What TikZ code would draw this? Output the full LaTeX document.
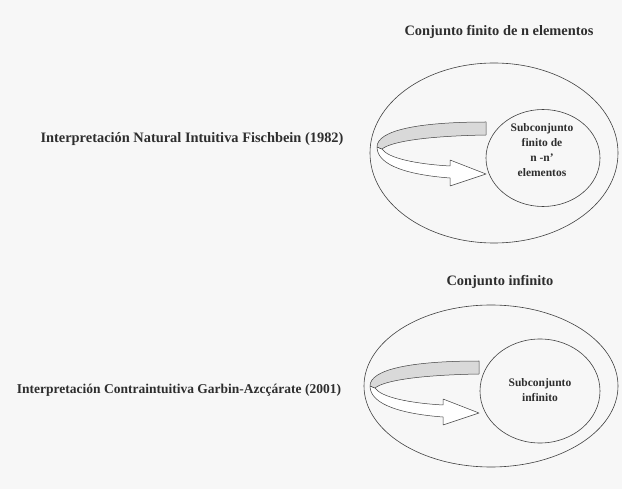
\documentclass[tikz,border=0pt]{standalone}
\usepackage{fontspec}
\setmainfont{Liberation Serif}
\usetikzlibrary{shapes.geometric}
\definecolor{bg}{HTML}{F7F7F7}
\definecolor{txt}{HTML}{2E2E2E}
\definecolor{band}{HTML}{D9D9D9}
\tikzset{
  setbox/.style={ellipse, draw=black!75, line width=0.6pt, inner sep=0pt},
  lbl/.style={text=txt, font=\bfseries\fontsize{14.4}{17}\selectfont, inner sep=0pt},
  sublbl/.style={text=txt, font=\bfseries\fontsize{11.5}{15}\selectfont, align=center, inner sep=0pt},
  ribbon/.style={draw=black!75, line width=0.5pt, line join=round},
}
\newcommand{\curvedarrow}[2]{%
  \begin{scope}[shift={(#1,#2)}]
    \path[ribbon, fill=white] (377,147) .. controls (377,166) and (410,175) .. (450,178)
      -- (450,186) -- (486,174) -- (450,160) -- (450,166)
      .. controls (415,164) and (388,158) .. (382,149) -- cycle;
    \path[ribbon, fill=band] (486,122) .. controls (420,122) and (377,130) .. (377,147)
      -- (382,149) .. controls (392,141) and (430,136) .. (486,135) -- cycle;
  \end{scope}}
\begin{document}
\begin{tikzpicture}[x=1pt, y=-1pt]
  \path[fill=bg] (0,0) rectangle (622,489);
  \useasboundingbox (0,0) rectangle (622,489);
  % top diagram
  \node[setbox, minimum width=248pt, minimum height=180pt] (outerA) at (494,153) {};
  \node[setbox, minimum width=114pt, minimum height=97pt] (innerA) at (543,158) {};
  \node[lbl] (titleA) at (499,32) {Conjunto finito de n elementos};
  \node[lbl] (leftA) at (192,139) {Interpretación Natural Intuitiva Fischbein (1982)};
  \node[sublbl] (subA) at (542,150) {Subconjunto\\finito de\\n -n'\\elementos};
  \curvedarrow{0}{0}
  % bottom diagram
  \node[setbox, minimum width=254pt, minimum height=162pt] (outerB) at (491,386) {};
  \node[setbox, minimum width=120pt, minimum height=104pt] (innerB) at (540,391) {};
  \node[lbl] (titleB) at (500,282) {Conjunto infinito};
  \node[lbl, font=\bfseries\fontsize{13.5}{16}\selectfont] (leftB) at (179,390) {Interpretación Contraintuitiva Garbin-Azcçárate (2001)};
  \node[sublbl] (subB) at (540,390) {Subconjunto\\infinito};
  \curvedarrow{-7}{239}
\end{tikzpicture}
\end{document}
